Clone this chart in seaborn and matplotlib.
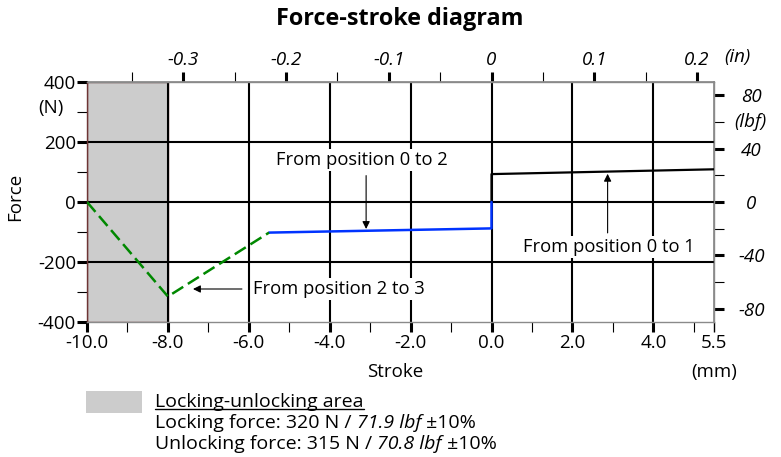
import matplotlib
matplotlib.use("Agg")
import matplotlib.pyplot as plt
from matplotlib.lines import Line2D
from matplotlib.patches import Rectangle
import pandas as pd
import seaborn as sns

# Stroke (mm) and force (N) for each travel section
stroke_0_to_1 = [0.0, 0.0, 5.5]
force_0_to_1 = [0, 93, 109]
stroke_0_to_2 = [-5.5, 0.0, 0.0]
force_0_to_2 = [-102, -88, 0]
stroke_2_to_3 = [-10.0, -8.0, -5.5]
force_2_to_3 = [0, -315, -102]

locking_area = [-10.0, -8.0]

stroke_ticks = [-10.0, -8.0, -6.0, -4.0, -2.0, 0.0, 2.0, 4.0, 5.5]
stroke_labels = ["-10.0", "-8.0", "-6.0", "-4.0", "-2.0", "0.0", "2.0", "4.0", "5.5"]
stroke_minor = [-9, -7, -5, -3, -1, 1, 3, 5]
stroke_grid = [-8, -6, -4, -2, 0, 2, 4]
force_ticks = [400, 200, 0, -200, -400]
force_labels = ["400", "200", "0", "-200", "-400"]
force_minor = [300, 100, -100, -300]
force_grid = [200, 0, -200]
inch_ticks = [-0.3, -0.2, -0.1, 0.0, 0.1, 0.2]
inch_labels = ["-0.3", "-0.2", "-0.1", "0", "0.1", "0.2"]
inch_minor = [-0.35, -0.25, -0.15, -0.05, 0.05, 0.15]
lbf_ticks = [80, 40, 0, -40, -80]
lbf_labels = ["80", "40", "0", "-40", "-80"]
lbf_minor = [60, 20, -20, -60]

MM_PER_IN = 25.4
N_PER_LBF = 4.44822

sns.set_theme(style="white")
plt.rcParams["font.family"] = ["Open Sans", "DejaVu Sans"]
plt.rcParams["axes.unicode_minus"] = False
plt.rcParams["text.color"] = "black"
plt.rcParams["xtick.labelcolor"] = "black"
plt.rcParams["ytick.labelcolor"] = "black"
FS = 13.5       # ticks and axis labels
FS_ANN = 13.2   # callouts
FS_LEG = 14.0   # legend block
GREY = "#8a8a8a"

W, H = 781, 457
fig = plt.figure(figsize=(W / 100, H / 100), dpi=100)
ax = fig.add_axes([87 / W, 1 - 322 / H, (714 - 87) / W, (322 - 82) / H])
ax.set_xlim(-10, 5.5)
ax.set_ylim(-400, 400)

# locking / unlocking zone
ax.axvspan(*locking_area, facecolor="#cccccc", edgecolor="#6e3434", lw=1.0, zorder=0.5)

# grid
for x in stroke_grid:
    ax.axvline(x, color="black", lw=1.5, zorder=1)
for y in force_grid:
    ax.axhline(y, color="black", lw=1.5, zorder=1)

# traces
df01 = pd.DataFrame({"stroke": stroke_0_to_1, "force": force_0_to_1})
df02 = pd.DataFrame({"stroke": stroke_0_to_2, "force": force_0_to_2})
df23 = pd.DataFrame({"stroke": stroke_2_to_3, "force": force_2_to_3})
sns.lineplot(data=df01, x="stroke", y="force", sort=False, estimator=None,
             color="black", lw=1.6, ax=ax, zorder=3)
sns.lineplot(data=df02, x="stroke", y="force", sort=False, estimator=None,
             color="#0033ff", lw=1.8, ax=ax, zorder=3)
sns.lineplot(data=df23, x="stroke", y="force", sort=False, estimator=None,
             color="#008800", lw=1.8, ax=ax, zorder=3, linestyle=(0, (5.2, 2.2)))
ax.set_xlabel("")
ax.set_ylabel("")

# spines
for s in ["top", "right", "bottom"]:
    ax.spines[s].set_color(GREY)
    ax.spines[s].set_linewidth(1.0)
ax.spines["left"].set_color("#6e3434")
ax.spines["left"].set_linewidth(1.0)

# primary ticks
ax.set_xticks(stroke_ticks, labels=stroke_labels, fontsize=FS)
ax.set_xticks(stroke_minor, minor=True)
ax.set_yticks(force_ticks, labels=force_labels, fontsize=FS)
ax.set_yticks(force_minor, minor=True)
ax.tick_params(which="both", direction="out", color="black", length=7,
               bottom=True, left=True, top=False, right=False)
ax.tick_params(which="major", width=2.2)
ax.tick_params(which="minor", width=0.8)
ax.tick_params(axis="x", which="major", pad=2)
ax.tick_params(axis="y", which="major", pad=1)
last = ax.xaxis.get_major_ticks()[-1]
last.tick1line.set_markeredgewidth(1.0)
last.tick1line.set_color(GREY)

# inch scale on top
secx = ax.secondary_xaxis("top", functions=(lambda v: v / MM_PER_IN, lambda v: v * MM_PER_IN))
secx.set_ticks(inch_ticks, labels=inch_labels, fontsize=FS, fontstyle="italic")
secx.set_ticks(inch_minor, minor=True)
secx.tick_params(which="both", direction="out", color="black", length=7)
secx.tick_params(which="major", width=2.2, pad=2)
secx.tick_params(which="minor", width=0.8)
secx.spines["top"].set_color(GREY)

# lbf scale on the right
secy = ax.secondary_yaxis("right", functions=(lambda v: v / N_PER_LBF, lambda v: v * N_PER_LBF))
secy.set_ticks(lbf_ticks, labels=lbf_labels, fontsize=FS, fontstyle="italic", ha="center")
secy.set_ticks(lbf_minor, minor=True)
secy.tick_params(which="both", direction="out", color="black", length=7)
secy.tick_params(which="major", width=2.2, pad=20)
secy.tick_params(which="minor", width=0.8)
secy.spines["right"].set_color(GREY)

# unit and axis labels
ax.text(1.0574, 60 * N_PER_LBF, "(lbf)", transform=ax.get_yaxis_transform(),
        ha="center", va="center", fontsize=FS, fontstyle="italic")
ax.text(-0.0574, 313, "(N)", transform=ax.get_yaxis_transform(),
        ha="center", va="center", fontsize=FS)
ax.text(1.0367, 1.104, "(in)", transform=ax.transAxes, ha="center", va="center",
        fontsize=FS, fontstyle="italic")
ax.text(1.0, -0.2083, "(mm)", transform=ax.transAxes, ha="center", va="center", fontsize=FS)
ax.text(0.491, -0.2083, "Stroke", transform=ax.transAxes, ha="center", va="center", fontsize=FS)
ax.text(-0.1148, 0.521, "Force", transform=ax.transAxes, ha="center", va="center",
        rotation=90, fontsize=FS)
ax.text(0.4992, 1.262, "Force-stroke diagram", transform=ax.transAxes, ha="center",
        va="center", fontsize=16.8, fontweight="bold")

# callouts
arrow = dict(arrowstyle="-|>", color="black", lw=0.8, shrinkA=0, shrinkB=0, mutation_scale=11)
box = dict(facecolor="white", edgecolor="none", pad=1.5)
ax.text(-3.2, 140, "From position 0 to 2", ha="center", va="center", fontsize=FS_ANN,
        bbox=box, zorder=4)
ax.annotate("", xy=(-3.1, -90), xytext=(-3.1, 88), arrowprops=arrow, zorder=4)
ax.text(2.9, -150, "From position 0 to 1", ha="center", va="center", fontsize=FS_ANN,
        bbox=box, zorder=4)
ax.annotate("", xy=(2.87, 94), xytext=(2.87, -103), arrowprops=arrow, zorder=4)
ax.text(-5.89, -290, "From position 2 to 3", ha="left", va="center", fontsize=FS_ANN,
        bbox=box, zorder=4)
ax.annotate("", xy=(-7.38, -290), xytext=(-6.17, -290), arrowprops=arrow, zorder=4)

# legend block
fig.patches.append(Rectangle((86 / W, 1 - 413 / H), 56 / W, 22 / H,
                             transform=fig.transFigure, facecolor="#cccccc",
                             edgecolor="none"))
head_txt = fig.text(155 / W, 1 - 402 / H, "Locking-unlocking area", ha="left",
                    va="center", fontsize=FS_LEG)

lines = [
    (423, [("Locking force: 320 N / ", "normal"), ("71.9 lbf", "italic"), (" ±10%", "normal")]),
    (444, [("Unlocking force: 315 N / ", "normal"), ("70.8 lbf", "italic"), (" ±10%", "normal")]),
]
renderer = fig.canvas.get_renderer()
for y_px, parts in lines:
    first = fig.text(155 / W, 1 - y_px / H, parts[0][0], ha="left", va="center",
                     fontsize=FS_LEG, fontstyle=parts[0][1])
    bb = first.get_window_extent(renderer)
    x_px = bb.x1
    for text, style in parts[1:]:
        t = fig.text(x_px / W, bb.y0 / H, text, ha="left", va="bottom",
                     fontsize=FS_LEG, fontstyle=style)
        x_px = t.get_window_extent(renderer).x1

tb = head_txt.get_window_extent(renderer)
fig.add_artist(Line2D([tb.x0 / W, tb.x1 / W], [(tb.y0 + 2) / H, (tb.y0 + 2) / H],
                      transform=fig.transFigure, color="black", lw=1.0))

fig.savefig("out.png", dpi=100)
